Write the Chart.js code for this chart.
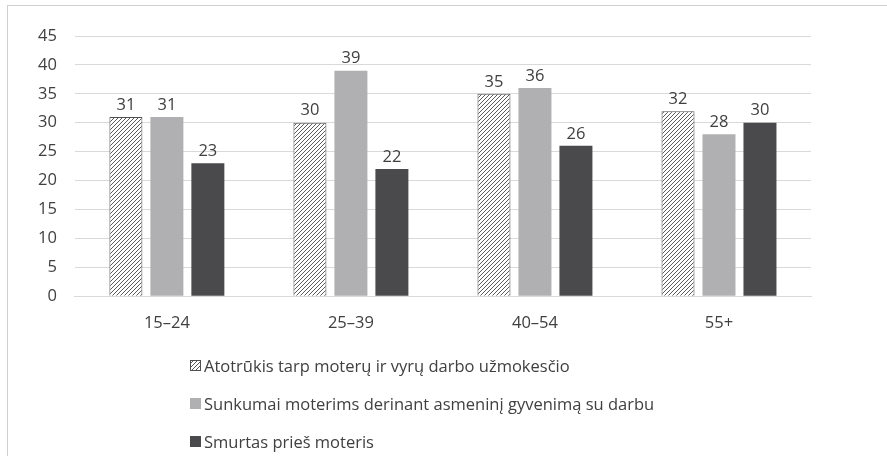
<!DOCTYPE html>
<html>
<head>
<meta charset="utf-8">
<script src="https://cdn.jsdelivr.net/npm/chart.js@4/dist/chart.umd.min.js"></script>
<style>
  html, body { margin: 0; padding: 0; background: #fff; }
  #frame { position: absolute; left: 7px; top: 5px; width: 879px; height: 460px;
           border-top: 1px solid #d0d0d0; border-left: 1px solid #d0d0d0; }
  #wrap { position: absolute; left: 0; top: 0; width: 887px; height: 346px; }
  #legend { position: absolute; left: 190px; top: 354px; font-family: "Open Sans", Lato, sans-serif;
            font-size: 16.5px; color: #404040; }
  .item { display: flex; align-items: center; height: 22px; margin-bottom: 16px; }
  .item canvas { width: 11px; height: 11px; margin-right: 3px; }
</style>
</head>
<body>
<div id="frame"></div>
<div id="wrap"><canvas id="chart"></canvas></div>
<div id="legend"></div>
<script>
// Age groups and survey shares (%)
const categories = ['15–24', '25–39', '40–54', '55+'];
const seriesNames = [
  'Atotrūkis tarp moterų ir vyrų darbo užmokesčio',
  'Sunkumai moterims derinant asmeninį gyvenimą su darbu',
  'Smurtas prieš moteris'
];
const payGap = [31, 30, 35, 32];
const workLife = [31, 39, 36, 28];
const violence = [23, 22, 26, 30];
const yTicks = [0, 5, 10, 15, 20, 25, 30, 35, 40, 45];

const FONT = '"Open Sans", Lato, sans-serif';
const FONT_SIZE = 16.5;
const TEXT = '#404040';

// Diagonal hatch fill for the first series
function hatch() {
  const c = document.createElement('canvas');
  c.width = 4; c.height = 4;
  const g = c.getContext('2d');
  g.fillStyle = '#ffffff';
  g.fillRect(0, 0, 4, 4);
  g.strokeStyle = '#5a5a5a';
  g.lineWidth = 1;
  g.beginPath();
  g.moveTo(-1, 5); g.lineTo(5, -1);
  g.moveTo(-1, 1); g.lineTo(1, -1);
  g.moveTo(3, 5); g.lineTo(5, 3);
  g.stroke();
  return g.createPattern(c, 'repeat');
}

const hatchFill = hatch();
const datasets = [
  { label: seriesNames[0], data: payGap, backgroundColor: hatchFill, borderColor: '#505050', borderWidth: 1 },
  { label: seriesNames[1], data: workLife, backgroundColor: '#b0b0b3', borderWidth: 0 },
  { label: seriesNames[2], data: violence, backgroundColor: '#4a4a4c', borderWidth: 0 }
];

// Value labels above each bar
const valueLabels = {
  id: 'valueLabels',
  afterDatasetsDraw(chart) {
    const ctx = chart.ctx;
    ctx.save();
    ctx.font = FONT_SIZE + 'px ' + FONT;
    ctx.fillStyle = TEXT;
    ctx.textAlign = 'center';
    ctx.textBaseline = 'middle';
    chart.data.datasets.forEach((ds, i) => {
      chart.getDatasetMeta(i).data.forEach((bar, j) => {
        ctx.fillText(String(ds.data[j]), bar.x, bar.y - 12);
      });
    });
    ctx.restore();
  }
};

const chart = new Chart(document.getElementById('chart'), {
  type: 'bar',
  data: { labels: categories, datasets },
  options: {
    responsive: true,
    maintainAspectRatio: false,
    animation: false,
    layout: { padding: { left: 20, right: 76, top: 36, bottom: 4 } },
    plugins: { legend: { display: false }, tooltip: { enabled: false } },
    datasets: { bar: { categoryPercentage: 0.668, barPercentage: 0.805 } },
    scales: {
      x: {
        grid: { display: false },
        border: { display: true, color: '#d9d9d9' },
        ticks: { color: TEXT, font: { family: FONT, size: FONT_SIZE }, padding: 9 }
      },
      y: {
        min: 0, max: 45,
        afterBuildTicks(axis) { axis.ticks = yTicks.map(v => ({ value: v })); },
        grid: { color: '#d9d9d9', drawTicks: false },
        border: { display: false },
        ticks: { color: TEXT, font: { family: FONT, size: FONT_SIZE }, padding: 18 }
      }
    }
  },
  plugins: [valueLabels]
});

// Vertical legend below the plot
const legend = document.getElementById('legend');
datasets.forEach(ds => {
  const row = document.createElement('div');
  row.className = 'item';
  const sw = document.createElement('canvas');
  sw.width = 11; sw.height = 11;
  const g = sw.getContext('2d');
  g.fillStyle = ds.backgroundColor;
  g.fillRect(0, 0, 11, 11);
  if (ds.borderWidth) {
    g.strokeStyle = ds.borderColor;
    g.lineWidth = 1;
    g.strokeRect(0.5, 0.5, 10, 10);
  }
  row.appendChild(sw);
  const t = document.createElement('span');
  t.textContent = ds.label;
  row.appendChild(t);
  legend.appendChild(row);
});
</script>
</body>
</html>
